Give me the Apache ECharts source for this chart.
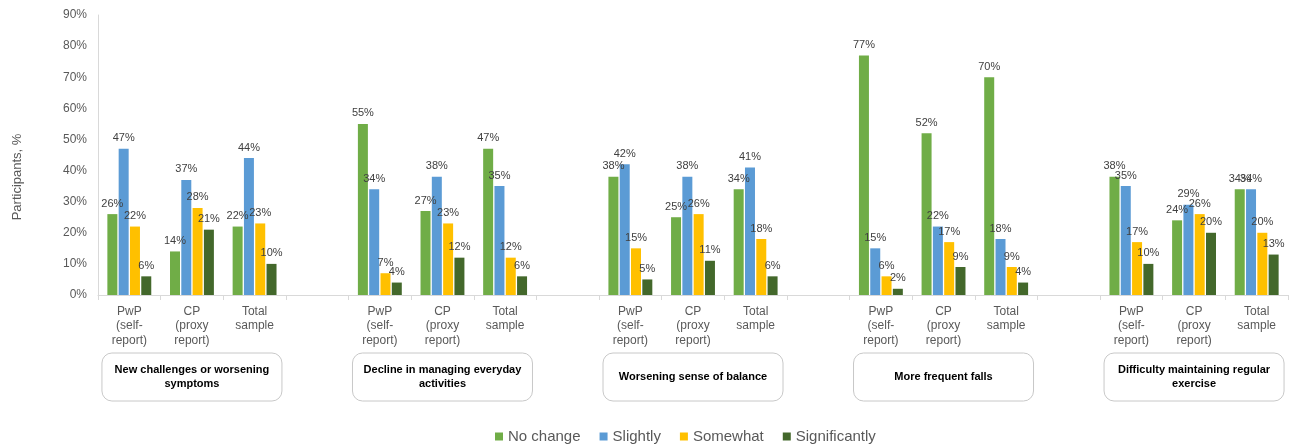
<!DOCTYPE html>
<html>
<head>
<meta charset="utf-8">
<script src="https://cdn.jsdelivr.net/npm/echarts@6/dist/echarts.min.js"></script>
<style>
html,body{margin:0;padding:0;background:#fff;}
#chart{width:1289px;height:444px;}
</style>
</head>
<body>
<div id="chart"></div>
<script>
const groups = ['New challenges or worsening\nsymptoms', 'Decline in managing everyday\nactivities', 'Worsening sense of balance', 'More frequent falls', 'Difficulty maintaining regular\nexercise'];
const subCategories = ['PwP\n(self-\nreport)', 'CP\n(proxy\nreport)', 'Total\nsample'];
const seriesNames = ['No change', 'Slightly', 'Somewhat', 'Significantly'];
const noChange =      [26, 14, 22,  55, 27, 47,  38, 25, 34,  77, 52, 70,  38, 24, 34];
const slightly =      [47, 37, 44,  34, 38, 35,  42, 38, 41,  15, 22, 18,  35, 29, 34];
const somewhat =      [22, 28, 23,   7, 23, 12,  15, 26, 18,   6, 17,  9,  17, 26, 20];
const significantly = [ 6, 21, 10,   4, 12,  6,   5, 11,  6,   2,  9,  4,  10, 20, 13];
const yTicks = [0, 90, 10]; // min, max, interval

const colors = ['#70AD47', '#5B9BD5', '#FFC000', '#43682B'];
const FONT = "'Liberation Sans', Arial, sans-serif";

// Build category axis: 3 sub-categories per group, blank spacer between groups
const categories = [];
groups.forEach((g, gi) => {
  subCategories.forEach(s => categories.push(s));
  if (gi < groups.length - 1) categories.push('');
});
function expand(arr) {
  const out = [];
  groups.forEach((g, gi) => {
    for (let k = 0; k < 3; k++) out.push(arr[gi * 3 + k]);
    if (gi < groups.length - 1) out.push('-');
  });
  return out;
}
const allData = [noChange, slightly, somewhat, significantly];

const chart = echarts.init(document.getElementById('chart'));
const option = {
  animation: false,
  textStyle: { fontFamily: FONT },
  color: colors,
  grid: { left: 98, right: 1, top: 15, bottom: 149, containLabel: false },
  legend: {
    data: seriesNames,
    left: 490,
    top: 424,
    itemWidth: 8,
    itemHeight: 8,
    itemGap: 19,
    icon: 'rect',
    textStyle: { fontSize: 15, color: '#595959', fontFamily: FONT }
  },
  xAxis: {
    type: 'category',
    data: categories,
    axisLine: { lineStyle: { color: '#d9d9d9' } },
    axisTick: { show: true, length: 5, lineStyle: { color: '#d9d9d9' } },
    axisLabel: { interval: 0, fontSize: 12, color: '#595959', lineHeight: 14.5, margin: 9, fontFamily: FONT }
  },
  yAxis: {
    type: 'value',
    min: yTicks[0],
    max: yTicks[1],
    interval: yTicks[2],
    axisLine: { show: true, lineStyle: { color: '#d9d9d9' } },
    axisTick: { show: false },
    splitLine: { show: false },
    axisLabel: { formatter: '{value}%', fontSize: 12, color: '#595959', margin: 11, fontFamily: FONT }
  },
  series: seriesNames.map((name, i) => ({
    name: name,
    type: 'bar',
    data: expand(allData[i]),
    barWidth: 10,
    barGap: '13%',
    itemStyle: { color: colors[i] },
    label: {
      show: true,
      position: 'top',
      distance: 5,
      formatter: '{c}%',
      fontSize: 11,
      color: '#404040',
      fontFamily: FONT
    }
  }))
};
chart.setOption(option);

// Group boxes placed via the category axis scale
const graphics = [];
groups.forEach((g, gi) => {
  const idx = gi * 4 + 1;
  const cx = chart.convertToPixel({ xAxisIndex: 0 }, idx);
  const w = 180, h = 48, top = 353;
  graphics.push({
    type: 'rect',
    shape: { x: cx - w / 2, y: top, width: w, height: h, r: 10 },
    style: { fill: '#fff', stroke: '#c8c8c8', lineWidth: 1 }
  });
  graphics.push({
    type: 'text',
    x: cx,
    y: top + h / 2,
    style: {
      text: g,
      fontSize: 11,
      fontWeight: 'bold',
      fontFamily: FONT,
      fill: '#000',
      align: 'center',
      verticalAlign: 'middle',
      lineHeight: 14
    }
  });
});
graphics.push({
  type: 'text',
  x: 17,
  y: 177,
  rotation: Math.PI / 2,
  style: {
    text: 'Participants, %',
    fontSize: 13,
    fontFamily: FONT,
    fill: '#595959',
    align: 'center',
    verticalAlign: 'middle'
  }
});
chart.setOption({ graphic: graphics });
</script>
</body>
</html>
